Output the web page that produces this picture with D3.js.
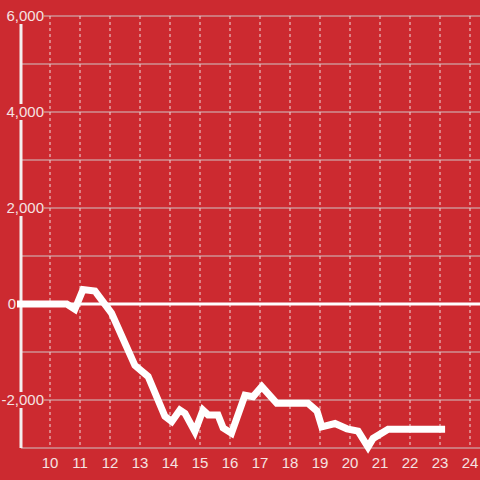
<!DOCTYPE html>
<html>
<head>
<meta charset="utf-8">
<script src="https://cdn.jsdelivr.net/npm/d3@7"></script>
<style>
  body { margin: 0; background: #cc2a30; }
  svg { display: block; font-family: "Liberation Sans", Arial, sans-serif; }
</style>
</head>
<body>
<svg width="480" height="480"></svg>
<script>
var hours = [8.9, 10.56, 10.83, 11.1, 11.5, 12.05, 12.83, 13.27, 13.83, 14.06, 14.33, 14.5, 14.83, 15.1, 15.27, 15.6, 15.77, 16.05, 16.5, 16.77, 17.06, 17.56, 18.6, 18.9, 19.06, 19.5, 19.9, 20.27, 20.6, 20.77, 21.27, 23.17];
var values = [0, 0, -110, 300, 270, -190, -1280, -1510, -2340, -2450, -2210, -2280, -2660, -2210, -2310, -2310, -2580, -2690, -1900, -1930, -1720, -2070, -2070, -2230, -2560, -2490, -2600, -2650, -2980, -2800, -2610, -2610];
var yTicks = [-2000, 0, 2000, 4000, 6000];
var yGrid = [-3000, -2000, -1000, 0, 1000, 2000, 3000, 4000, 5000, 6000];
var xTicks = [10, 11, 12, 13, 14, 15, 16, 17, 18, 19, 20, 21, 22, 23, 24];

var svg = d3.select("svg"),
    width = 480,
    marginLeft = 21,
    marginTop = 16,
    plotBottom = 448;

var x = d3.scaleLinear().domain([9, 24]).range([20, 470]);
var y = d3.scaleLinear().domain([-3000, 6000]).range([plotBottom, marginTop]);

var fmt = d3.format(",");

// horizontal grid
svg.append("g").selectAll("line")
    .data(yGrid.filter(function(d) { return d !== 0; }))
    .enter().append("line")
    .attr("x1", marginLeft).attr("x2", width)
    .attr("y1", function(d) { return y(d); })
    .attr("y2", function(d) { return y(d); })
    .attr("stroke", "#d0c4c4")
    .attr("stroke-width", 1);

// vertical dashed grid
svg.append("g").selectAll("line")
    .data(xTicks)
    .enter().append("line")
    .attr("x1", function(d) { return x(d); })
    .attr("x2", function(d) { return x(d); })
    .attr("y1", marginTop).attr("y2", plotBottom)
    .attr("stroke", "#f0dada")
    .attr("stroke-width", 1)
    .attr("stroke-dasharray", "3,3");

// zero line
svg.append("line")
    .attr("x1", marginLeft).attr("x2", width)
    .attr("y1", y(0)).attr("y2", y(0))
    .attr("stroke", "#fff")
    .attr("stroke-width", 3);

// y axis line
svg.append("line")
    .attr("x1", marginLeft).attr("x2", marginLeft)
    .attr("y1", marginTop).attr("y2", plotBottom)
    .attr("stroke", "#f4eeee")
    .attr("stroke-width", 3);

// y labels with red background (zero label sits left of the axis)
var yl = svg.append("g").selectAll("g")
    .data(yTicks)
    .enter().append("g")
    .attr("transform", function(d) { return "translate(" + (d === 0 ? 16 : 44) + "," + y(d) + ")"; });

yl.append("rect")
    .attr("x", function(d) { return d === 0 ? -10 : -40; })
    .attr("y", -8)
    .attr("width", function(d) { return d === 0 ? 10 : 40; })
    .attr("height", 16)
    .attr("fill", "#cc2a30");

yl.append("text")
    .attr("text-anchor", "end")
    .attr("dy", "0.35em")
    .attr("fill", "#f5e2e2")
    .style("font-size", "15px")
    .text(function(d) { return fmt(d).replace("−", "-"); });

// data line
var line = d3.line()
    .x(function(d, i) { return x(hours[i]); })
    .y(function(d) { return y(d); });

svg.append("path")
    .datum(values)
    .attr("d", line)
    .attr("fill", "none")
    .attr("stroke", "#fff")
    .attr("stroke-width", 7)
    .attr("stroke-linejoin", "miter");

// x labels
svg.append("g").selectAll("text")
    .data(xTicks)
    .enter().append("text")
    .attr("x", function(d) { return x(d); })
    .attr("y", 463)
    .attr("dy", "0.35em")
    .attr("text-anchor", "middle")
    .attr("fill", "#f5e2e2")
    .style("font-size", "15px")
    .text(function(d) { return d; });
</script>
</body>
</html>
